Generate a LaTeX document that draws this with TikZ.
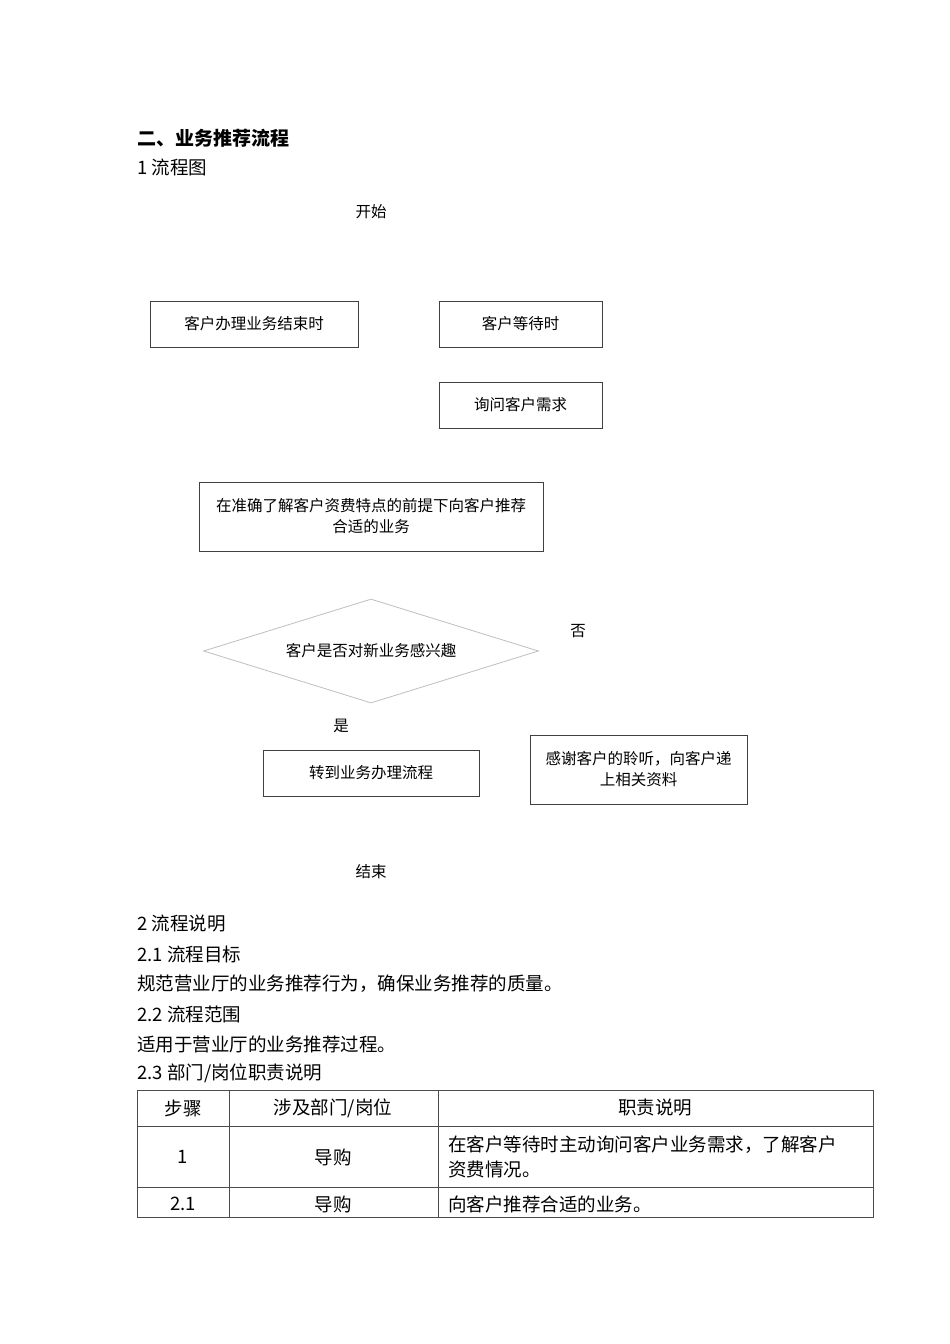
\documentclass[tikz,border=0pt]{standalone}
\usepackage{fontspec}
\setmainfont{Noto Sans CJK SC}
\newfontfamily\latin{Liberation Sans}
\usepackage{xcolor}
\usepackage{tikz}
\usetikzlibrary{shapes.geometric}

\begin{document}
\begin{tikzpicture}[
    x=1pt, y=-1pt,
    font=\fontsize{15.5}{21}\selectfont,
    box/.style={
      draw=black!75,
      line width=0.9pt,
      align=center,
      inner sep=2pt,
      fill=white
    },
    decision/.style={
      diamond,
      draw=black!25,
      line width=0.8pt,
      aspect=3.22,
      inner sep=0pt,
      align=center
    },
    plain/.style={
      inner sep=0pt,
      anchor=center
    },
    para/.style={
      inner sep=0pt,
      anchor=west,
      font=\fontsize{18.5}{24}\selectfont
    },
    cell/.style={
      inner sep=0pt,
      font=\fontsize{18.5}{25}\selectfont
    },
    grid/.style={
      draw=black!70,
      line width=0.9pt
    }
  ]

    \useasboundingbox[fill=white] (0,0) rectangle (950,1344);

    % Headings
    \node[para, font=\fontsize{19}{24}\selectfont\bfseries] (title) at (137,138) {二、业务推荐流程};
    \node[para] (chart) at (137,167) {1 流程图};

    % Flow chart
    \node[plain] (start) at (371,212) {开始};
    \node[box, minimum width=208pt, minimum height=46pt] (finish) at (254,324) {客户办理业务结束时};
    \node[box, minimum width=163pt, minimum height=46pt] (wait) at (520.5,324) {客户等待时};
    \node[box, minimum width=163pt, minimum height=46pt] (ask) at (520.5,405) {询问客户需求};
    \node[box, minimum width=344pt, minimum height=69pt] (recommend) at (371,516.5)
      {在准确了解客户资费特点的前提下向客户推荐\\合适的业务};
    \node[decision, minimum width=335pt, minimum height=104pt] (interest) at (371,651) {客户是否对新业务感兴趣};
    \node[plain] (no) at (578,631) {否};
    \node[plain] (yes) at (341,726) {是};
    \node[box, minimum width=216pt, minimum height=46pt] (handle) at (371,773) {转到业务办理流程};
    \node[box, minimum width=217pt, minimum height=69pt] (thanks) at (638.5,769.5)
      {感谢客户的聆听，向客户递\\上相关资料};
    \node[plain] (stop) at (371,872) {结束};

    % Description
    \node[para] (desc) at (137,924) {2 流程说明};
    \node[para] (goal) at (137,954) {2.1 流程目标};
    \node[para] (goaltext) at (137,984) {规范营业厅的业务推荐行为，确保业务推荐的质量。};
    \node[para] (scope) at (137,1014) {2.2 流程范围};
    \node[para] (scopetext) at (137,1044) {适用于营业厅的业务推荐过程。};
    \node[para] (duty) at (137,1073) {2.3 部门/岗位职责说明};

    % Table
    \draw[grid] (137,1090) rectangle (873,1217);
    \foreach \yy in {1126,1187}
      \draw[grid] (137,\yy) -- (873,\yy);
    \foreach \xx in {229,438}
      \draw[grid] (\xx,1090) -- (\xx,1217);

    \node[cell] (hstep) at (183,1108) {步骤};
    \node[cell] (hdept) at (333,1108) {涉及部门/岗位};
    \node[cell] (hduty) at (655,1108) {职责说明};

    \node[cell] (stepa) at (183,1157) {1};
    \node[cell] (depta) at (333,1157) {导购};
    \node[cell, anchor=west, align=left] (dutya) at (448,1157)
      {在客户等待时主动询问客户业务需求，了解客户\\资费情况。};

    \node[cell] (stepb) at (183,1204) {2.1};
    \node[cell] (deptb) at (333,1204) {导购};
    \node[cell, anchor=west] (dutyb) at (448,1204) {向客户推荐合适的业务。};

\end{tikzpicture}
\end{document}
